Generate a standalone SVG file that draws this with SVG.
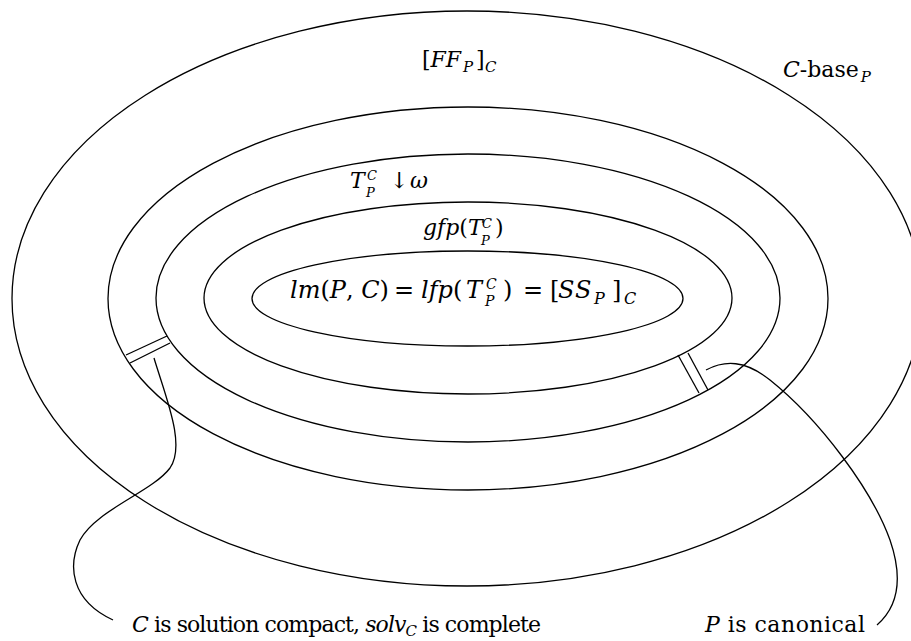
<svg xmlns="http://www.w3.org/2000/svg" width="911" height="641" viewBox="0 0 911 641">
<style>
.e{fill:none;stroke:#000;stroke-width:1.3}
.c{fill:none;stroke:#000;stroke-width:1.3}
.t{font-size:22px;fill:#000;font-family:"DejaVu Serif","Liberation Serif",serif}
.i{font-style:italic}
.s{font-size:15px}
.ss{font-size:13px}
.m{font-size:24px}
.ms{font-size:16px}
.mss{font-size:14px}
</style>
<rect width="911" height="641" fill="#fff"/>
<g id="base">
<ellipse class="e" cx="467" cy="298.5" rx="455" ry="287.5"/>
<text class="t" x="783" y="77"><tspan class="i">C</tspan>-base<tspan class="i s" dx="2" dy="5">P</tspan></text>
</g>
<g id="ff">
<ellipse class="e" cx="468" cy="298.5" rx="360" ry="191.5"/>
<text class="t" x="422" y="67">[<tspan class="i">FF</tspan><tspan class="i s" x="463" y="72">P</tspan><tspan x="476" y="67">]</tspan><tspan class="i s" x="485" y="72">C</tspan></text>
</g>
<g id="down">
<ellipse class="e" cx="468" cy="298" rx="312" ry="144"/>
<text class="t" x="350" y="188"><tspan class="i">T</tspan><tspan class="i ss" x="367" y="180">C</tspan><tspan class="i ss" x="366" y="197">P</tspan><tspan x="390" y="188">↓</tspan><tspan class="i" x="410" y="188">ω</tspan></text>
</g>
<g id="gfp">
<ellipse class="e" cx="468" cy="298" rx="264" ry="96"/>
<text class="t" x="423" y="235"><tspan class="i">gfp</tspan>(<tspan class="i">T</tspan><tspan class="i ss" x="482" y="228">C</tspan><tspan class="i ss" x="481" y="245">P</tspan><tspan x="495" y="235">)</tspan></text>
</g>
<g id="lm">
<ellipse class="e" cx="467.5" cy="298.5" rx="215.5" ry="47.5"/>
<text class="t m" x="290" y="298"><tspan class="i">lm</tspan>(<tspan class="i">P</tspan>, <tspan class="i">C</tspan>)<tspan x="394">=</tspan><tspan class="i" x="421">lfp</tspan>(<tspan class="i" x="466">T</tspan><tspan class="i mss" x="486" y="289">C</tspan><tspan class="i mss" x="485" y="306">P</tspan><tspan x="503" y="298">)</tspan><tspan x="523">=</tspan><tspan x="550">[</tspan><tspan class="i" x="558">S</tspan><tspan class="i" x="575">S</tspan><tspan class="i ms" x="594" y="304">P</tspan><tspan x="612" y="298">]</tspan><tspan class="i ms" x="624" y="304">C</tspan></text>
</g>
<g id="cond1">
<text class="t" x="132" y="632" textLength="409" lengthAdjust="spacing"><tspan class="i">C</tspan> is solution compact, <tspan class="i">solv</tspan><tspan class="i s" dy="4">C</tspan><tspan dy="-4"> is complete</tspan></text>
</g>
<g id="cond2">
<text class="t" x="705" y="632" textLength="160" lengthAdjust="spacing"><tspan class="i">P</tspan> is canonical</text>
</g>
<g id="connectors">
<line class="c" x1="126" y1="355" x2="167" y2="336"/>
<line class="c" x1="130" y1="363" x2="170" y2="343"/>
<line class="c" x1="678" y1="355" x2="699" y2="393"/>
<line class="c" x1="688" y1="353" x2="708" y2="390"/>
<path class="c" d="M154,358 C166,398 186,445 170,468 C152,492 96,510 80,540 C68,565 70,600 113,620"/>
<path class="c" d="M706,370 C725,360 745,360 770,380 C820,420 872,490 890,540 C902,575 900,605 877,625"/>
</g>
</svg>
